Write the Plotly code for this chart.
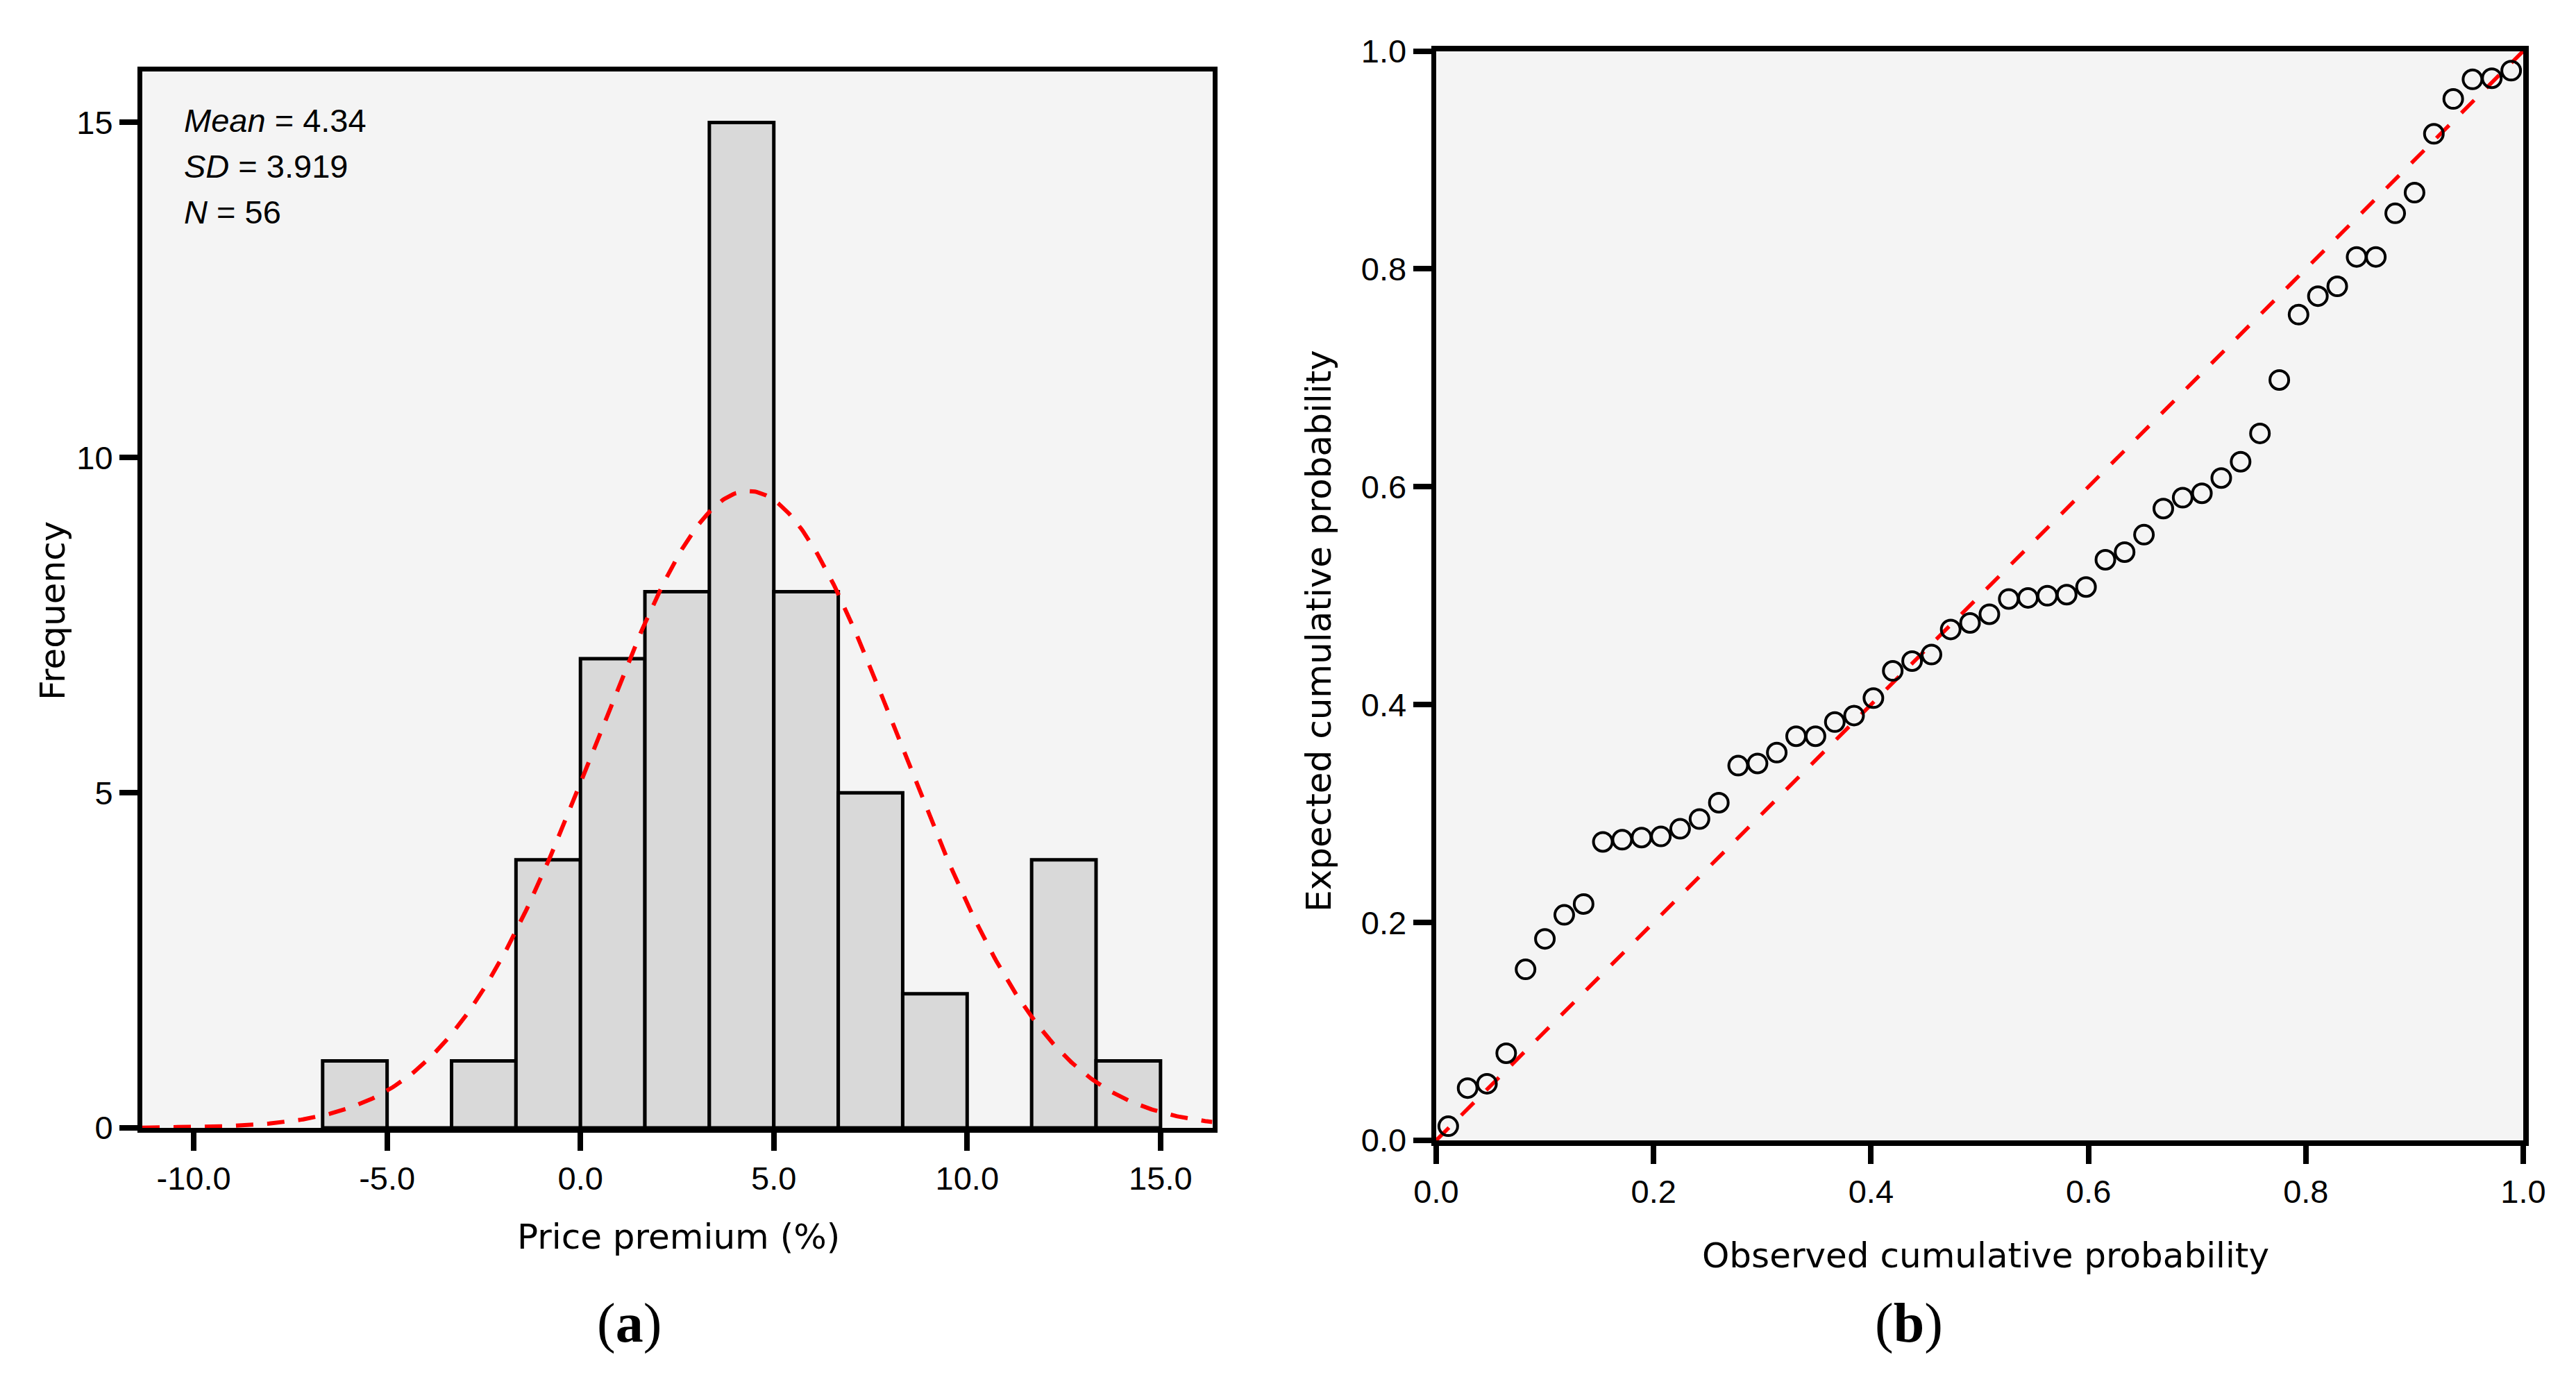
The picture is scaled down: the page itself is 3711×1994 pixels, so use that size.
import numpy as np
import plotly.graph_objects as go

W, H = 3711, 1994

# ---------------- Panel (a): histogram of price premium ----------------
bin_edges = [-6.667, -5.0, -3.333, -1.667, 0.0, 1.667, 3.333, 5.0, 6.667,
             8.333, 10.0, 11.667, 13.333, 15.0]
counts = [1, 0, 1, 4, 7, 8, 15, 8, 5, 2, 0, 4, 1]
mean_pp = 4.34
sd_pp = 3.919
n_pp = 56
xticks_a = [-10, -5, 0, 5, 10, 15]
xticklabels_a = ["-10.0", "-5.0", "0.0", "5.0", "10.0", "15.0"]
yticks_a = [0, 5, 10, 15]
xrange_a = [-11.33, 16.34]
yrange_a = [0, 15.76]

# ---------------- Panel (b): P-P plot ----------------
observed = [0.0111, 0.0289, 0.0467, 0.0644, 0.0822, 0.1000, 0.1178, 0.1356,
            0.1533, 0.1711, 0.1889, 0.2067, 0.2244, 0.2422, 0.2600, 0.2778,
            0.2956, 0.3133, 0.3311, 0.3489, 0.3667, 0.3844, 0.4022, 0.4200,
            0.4378, 0.4556, 0.4733, 0.4911, 0.5089, 0.5267, 0.5444, 0.5622,
            0.5800, 0.5978, 0.6156, 0.6333, 0.6511, 0.6689, 0.6867, 0.7044,
            0.7222, 0.7400, 0.7578, 0.7756, 0.7933, 0.8111, 0.8289, 0.8467,
            0.8644, 0.8822, 0.9000, 0.9178, 0.9356, 0.9533, 0.9711, 0.9889]
expected = [0.013, 0.048, 0.052, 0.080, 0.157, 0.185, 0.207, 0.217,
            0.274, 0.276, 0.278, 0.279, 0.286, 0.295, 0.310, 0.344,
            0.346, 0.356, 0.371, 0.371, 0.384, 0.390, 0.406, 0.431,
            0.440, 0.446, 0.469, 0.475, 0.483, 0.497, 0.498, 0.500,
            0.501, 0.508, 0.533, 0.540, 0.556, 0.580, 0.590, 0.594,
            0.608, 0.623, 0.649, 0.698, 0.758, 0.775, 0.784, 0.811,
            0.811, 0.851, 0.870, 0.924, 0.956, 0.974, 0.975, 0.982]
ticks_b = [0.0, 0.2, 0.4, 0.6, 0.8, 1.0]
diag = [0.0, 1.0]

# ---------------- styling ----------------
TICK_FONT = dict(family="Liberation Sans, Arial, sans-serif", size=47, color="black")
TITLE_FONT = dict(family="DejaVu Sans, Verdana, sans-serif", size=50, color="black")
STAT_FONT = dict(family="Liberation Sans, Arial, sans-serif", size=47, color="black")
LABEL_FONT = dict(family="Liberation Serif, Times New Roman, serif", size=80, color="black")
PLOT_BG = "#f4f4f4"
BAR_FILL = "#d9d9d9"
RED = "#ff0000"


def px_x(p):
    return p / W


def px_y(p):
    return 1 - p / H


bin_w = [bin_edges[i + 1] - bin_edges[i] for i in range(len(counts))]
bin_c = [(bin_edges[i] + bin_edges[i + 1]) / 2 for i in range(len(counts))]
bw = float(np.mean(bin_w))

xc = np.linspace(xrange_a[0], xrange_a[1], 600)
yc = n_pp * bw * np.exp(-0.5 * ((xc - mean_pp) / sd_pp) ** 2) / (sd_pp * np.sqrt(2 * np.pi))

fig = go.Figure()
fig.add_trace(go.Bar(x=bin_c, y=counts, width=bin_w,
                     marker=dict(color=BAR_FILL, line=dict(color="black", width=5)),
                     xaxis="x", yaxis="y", showlegend=False, hoverinfo="skip"))
fig.add_trace(go.Scatter(x=xc, y=yc, mode="lines",
                         line=dict(color=RED, width=6, dash="25px,20px"),
                         xaxis="x", yaxis="y", showlegend=False, hoverinfo="skip"))

fig.add_trace(go.Scatter(x=diag, y=diag, mode="lines",
                         line=dict(color=RED, width=5.5, dash="26px,25px"),
                         xaxis="x2", yaxis="y2", showlegend=False, hoverinfo="skip"))
fig.add_trace(go.Scatter(x=observed, y=expected, mode="markers",
                         marker=dict(symbol="circle-open", size=27, color="black",
                                     line=dict(color="black", width=4)),
                         xaxis="x2", yaxis="y2", showlegend=False, hoverinfo="skip",
                         cliponaxis=False))


def axis_style(lw):
    return dict(showline=True, linecolor="black", linewidth=lw, mirror=True,
                ticks="outside", ticklen=26, tickwidth=8, tickcolor="black",
                showgrid=False, zeroline=False, tickfont=TICK_FONT, fixedrange=True,
                automargin=False)


fig.update_layout(
    width=W, height=H,
    margin=dict(l=0, r=0, t=0, b=0, pad=0, autoexpand=False),
    paper_bgcolor="white", plot_bgcolor=PLOT_BG,
    bargap=0,
    xaxis=dict(domain=[px_x(205), px_x(1746.5)], range=xrange_a, anchor="y",
               tickmode="array", tickvals=xticks_a, ticktext=xticklabels_a, **axis_style(7)),
    yaxis=dict(domain=[px_y(1625), px_y(103)], range=yrange_a, anchor="x",
               tickmode="array", tickvals=yticks_a, **axis_style(7)),
    xaxis2=dict(domain=[px_x(2069), px_x(3635)], range=[0, 1], anchor="y2",
                tickmode="array", tickvals=ticks_b, tickformat=".1f", **axis_style(7.5)),
    yaxis2=dict(domain=[px_y(1643), px_y(73.5)], range=[0, 1], anchor="x2",
                tickmode="array", tickvals=ticks_b, tickformat=".1f", **axis_style(7.5)),
)

ann = []
# statistics box
stat_lines = [f"<i>Mean</i> = {mean_pp:.2f}", f"<i>SD</i> = {sd_pp:.3f}", f"<i>N</i> = {n_pp}"]
for i, t in enumerate(stat_lines):
    ann.append(dict(text=t, x=px_x(263), y=px_y(173 + 66 * i), xref="paper", yref="paper",
                    xanchor="left", yanchor="middle", showarrow=False, font=STAT_FONT))
# axis titles
ann.append(dict(text="Price premium (%)", x=px_x(977), y=px_y(1782), xref="paper", yref="paper",
                xanchor="center", yanchor="middle", showarrow=False, font=TITLE_FONT))
ann.append(dict(text="Frequency", x=px_x(76), y=px_y(880), xref="paper", yref="paper",
                xanchor="center", yanchor="middle", showarrow=False, font=TITLE_FONT, textangle=-90))
ann.append(dict(text="Observed cumulative probability", x=px_x(2860), y=px_y(1809), xref="paper",
                yref="paper", xanchor="center", yanchor="middle", showarrow=False, font=TITLE_FONT))
ann.append(dict(text="Expected cumulative probability", x=px_x(1900), y=px_y(909), xref="paper",
                yref="paper", xanchor="center", yanchor="middle", showarrow=False, font=TITLE_FONT,
                textangle=-90))
# panel labels
ann.append(dict(text="(<b>a</b>)", x=px_x(906), y=px_y(1906), xref="paper", yref="paper",
                xanchor="center", yanchor="middle", showarrow=False, font=LABEL_FONT))
ann.append(dict(text="(<b>b</b>)", x=px_x(2750), y=px_y(1906), xref="paper", yref="paper",
                xanchor="center", yanchor="middle", showarrow=False, font=LABEL_FONT))
fig.update_layout(annotations=ann)

fig.write_html("out.html", config={"displayModeBar": False, "staticPlot": True},
               post_script="document.body.style.margin='0px';document.body.style.overflow='hidden';")
